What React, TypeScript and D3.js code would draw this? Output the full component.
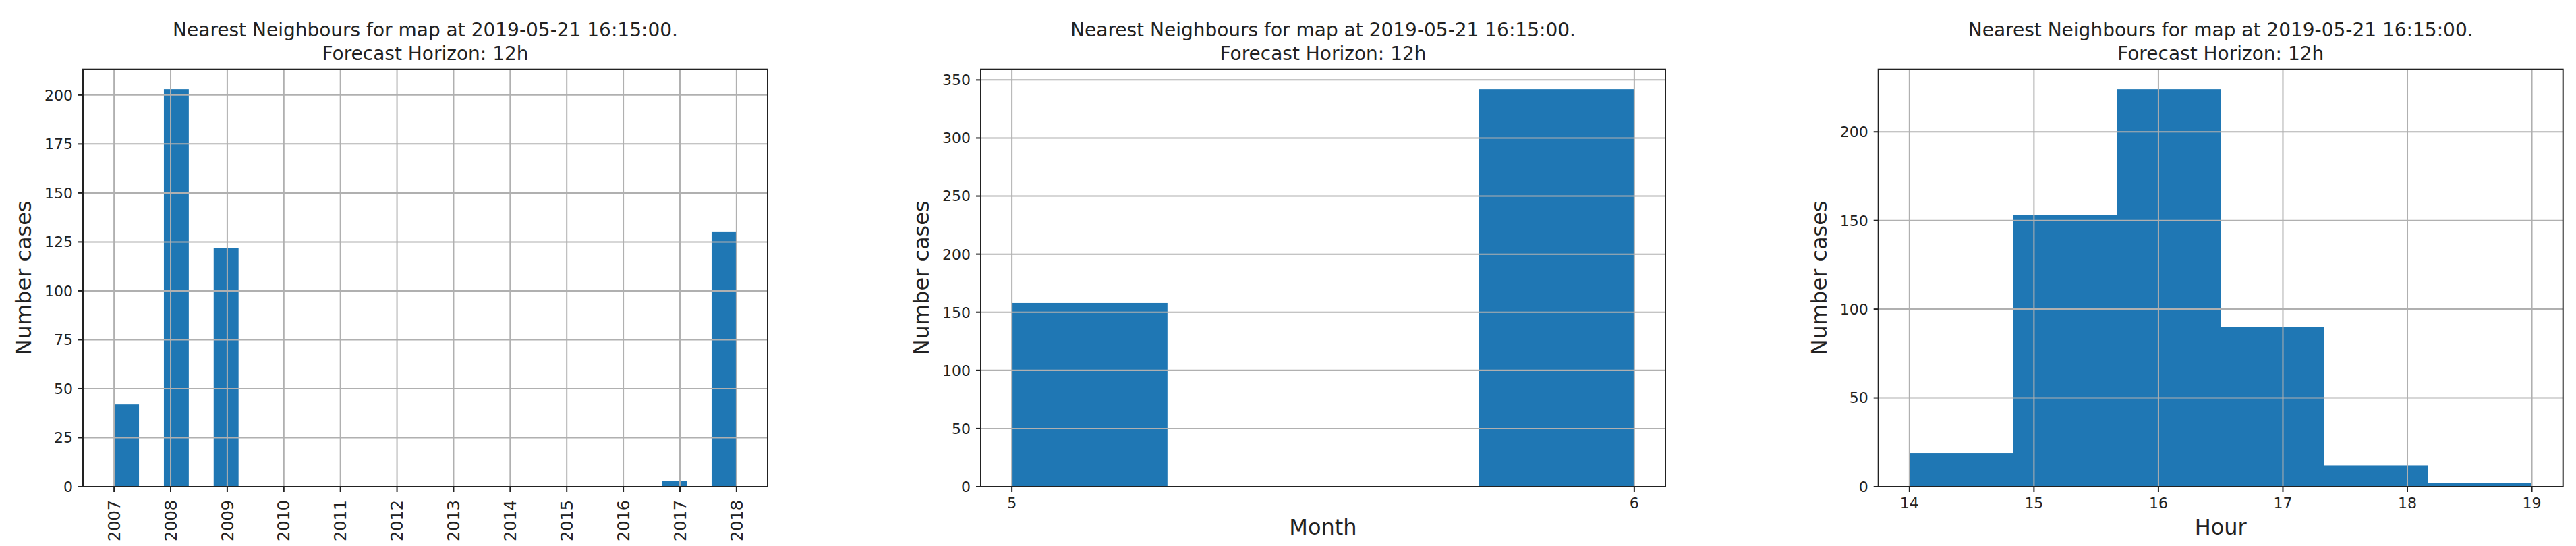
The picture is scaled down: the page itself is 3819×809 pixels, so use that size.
import React, { useEffect } from 'react';
import * as d3 from 'd3';

// histogram counts
const yearRange = [2007, 2018];
const yearCounts = [42, 0, 203, 0, 122, 0, 0, 0, 0, 0, 0, 0, 0, 0, 0, 0, 0, 0, 0, 0, 0, 0, 3, 0, 130];
const yearTicks = ['2007', '2008', '2009', '2010', '2011', '2012', '2013', '2014', '2015', '2016', '2017', '2018'];
const yearYTicks = [0, 25, 50, 75, 100, 125, 150, 175, 200];

const monthRange = [5, 6];
const monthCounts = [158, 0, 0, 342];
const monthTicks = ['5', '6'];
const monthYTicks = [0, 50, 100, 150, 200, 250, 300, 350];

const hourRange = [14, 19];
const hourCounts = [19, 153, 224, 90, 12, 2];
const hourTicks = ['14', '15', '16', '17', '18', '19'];
const hourYTicks = [0, 50, 100, 150, 200];

const titleLines = ['Nearest Neighbours for map at 2019-05-21 16:15:00.', 'Forecast Horizon: 12h'];

const W = 3819;
const H = 809;
const top = 102.7;
const bottom = 721;
const panelLefts = [123, 1454, 2784.7];
const panelWidth = 1015;
const font = 'DejaVu Sans, sans-serif';
const barColor = '#1f77b4';
const gridColor = '#b0b0b0';
const ink = '#222';

type PanelProps = {
  left: number;
  range: number[];
  counts: number[];
  ticks: string[];
  yTicks: number[];
  xLabel?: string;
  rotate?: boolean;
};

const Panel = ({ left, range, counts, ticks, yTicks, xLabel, rotate }: PanelProps) => {
  const right = left + panelWidth;
  const span = range[1] - range[0];
  const x = d3.scaleLinear()
    .domain([range[0] - span * 0.05, range[1] + span * 0.05])
    .range([left, right]);
  const y = d3.scaleLinear()
    .domain([0, (d3.max(counts) || 1) * 1.05])
    .range([bottom, top]);
  const step = span / counts.length;
  const bins = counts.map((c, i) => ({ x0: range[0] + i * step, x1: range[0] + (i + 1) * step, c }));
  const cx = (left + right) / 2;

  return (
    <g>
      {bins.filter(b => b.c > 0).map((b, i) => (
        <rect key={i} x={x(b.x0)} y={y(b.c)} width={x(b.x1) - x(b.x0)} height={bottom - y(b.c)} fill={barColor} />
      ))}
      {ticks.map(t => (
        <line key={'gx' + t} x1={x(+t)} x2={x(+t)} y1={top} y2={bottom} stroke={gridColor} strokeWidth={2} />
      ))}
      {yTicks.map(t => (
        <line key={'gy' + t} x1={left} x2={right} y1={y(t)} y2={y(t)} stroke={gridColor} strokeWidth={2} />
      ))}
      <rect x={left} y={top} width={panelWidth} height={bottom - top} fill="none" stroke={ink} strokeWidth={2} />
      {yTicks.map(t => (
        <g key={'ty' + t}>
          <line x1={left - 7} x2={left} y1={y(t)} y2={y(t)} stroke={ink} strokeWidth={2} />
          <text x={left - 15} y={y(t)} dy="0.36em" textAnchor="end" fontSize={22} fontFamily={font} fill={ink}>{t}</text>
        </g>
      ))}
      {ticks.map(t => (
        <g key={'tx' + t}>
          <line x1={x(+t)} x2={x(+t)} y1={bottom} y2={bottom + 8} stroke={ink} strokeWidth={2} />
          {rotate ? (
            <text transform={`translate(${x(+t)},${bottom + 20}) rotate(-90)`} textAnchor="end" dy="0.36em"
              fontSize={24} fontFamily={font} fill={ink}>{t}</text>
          ) : (
            <text x={x(+t)} y={bottom + 32} textAnchor="middle" fontSize={22} fontFamily={font} fill={ink}>{t}</text>
          )}
        </g>
      ))}
      <text transform={`translate(${left - 77},${(top + bottom) / 2}) rotate(-90)`} textAnchor="middle"
        fontSize={32} fontFamily={font} fill={ink}>Number cases</text>
      {xLabel && (
        <text x={cx} y={792} textAnchor="middle" fontSize={32} fontFamily={font} fill={ink}>{xLabel}</text>
      )}
      <text x={cx} y={54} textAnchor="middle" fontSize={28} fontFamily={font} fill={ink}>{titleLines[0]}</text>
      <text x={cx} y={88.7} textAnchor="middle" fontSize={28} fontFamily={font} fill={ink}>{titleLines[1]}</text>
    </g>
  );
};

export default function App() {
  useEffect(() => {
    document.body.style.margin = '0';
  }, []);
  return (
    <svg width={W} height={H} style={{ position: 'absolute', left: 0, top: 0, display: 'block', background: '#fff' }}>
      <rect width={W} height={H} fill="#fff" />
      <Panel left={panelLefts[0]} range={yearRange} counts={yearCounts} ticks={yearTicks} yTicks={yearYTicks} rotate />
      <Panel left={panelLefts[1]} range={monthRange} counts={monthCounts} ticks={monthTicks} yTicks={monthYTicks} xLabel="Month" />
      <Panel left={panelLefts[2]} range={hourRange} counts={hourCounts} ticks={hourTicks} yTicks={hourYTicks} xLabel="Hour" />
    </svg>
  );
}
